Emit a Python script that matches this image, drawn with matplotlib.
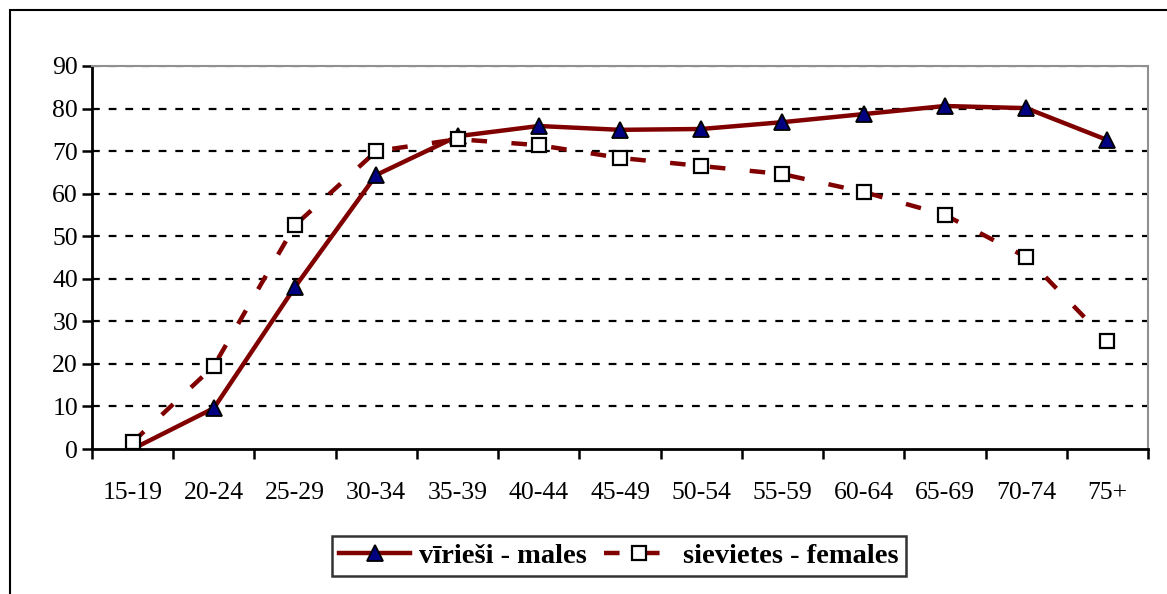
import matplotlib
matplotlib.use("Agg")
import matplotlib.pyplot as plt
from matplotlib.patches import Rectangle

# Données
age_groups = ["15-19", "20-24", "25-29", "30-34", "35-39", "40-44", "45-49",
              "50-54", "55-59", "60-64", "65-69", "70-74", "75+"]
males = [0.0, 9.6, 38.1, 64.4, 73.5, 75.9, 75.0, 75.2, 76.8, 78.7, 80.6, 80.1, 72.6]
females = [1.6, 19.5, 52.6, 70.0, 72.8, 71.4, 68.4, 66.5, 64.6, 60.4, 55.0, 45.1, 25.4]

plt.rcParams['font.family'] = ['Liberation Serif', 'DejaVu Serif']

fig = plt.figure(figsize=(11.67, 5.94), dpi=100)
ax = fig.add_axes([92 / 1167, 1 - 449 / 594, (1148 - 92) / 1167, (449 - 66) / 594])

# cadre extérieur
fig.patches.append(Rectangle((10 / 1167, -0.1), 1.2, 1 - 10 / 594 + 0.1,
                             transform=fig.transFigure, fill=False,
                             edgecolor="black", linewidth=1.5))

x = list(range(len(age_groups)))

# grille
for v in range(10, 90, 10):
    ax.axhline(v, color="black", linestyle=(0, (3.5, 4)), linewidth=1.6, zorder=1)
ax.axhline(90, color="#606060", linestyle=(0, (3.5, 4)), linewidth=1.6, zorder=1)

ax.plot(x, males, color="#800000", linewidth=3.2, marker="^", markersize=12,
        markerfacecolor="#000080", markeredgecolor="black", markeredgewidth=1.3,
        label="vīrieši - males", zorder=3)
ax.plot(x, females, color="#800000", linewidth=3.2, linestyle=(0, (3.5, 5.5)),
        marker="s", markersize=10, markerfacecolor="white", markeredgecolor="black",
        markeredgewidth=1.6, label="sievietes - females", zorder=4)

ax.set_xlim(-0.5, 12.5)
ax.set_ylim(0, 90)
ax.set_yticks(range(0, 100, 10))
ax.set_xticks(x)
ax.set_xticklabels(age_groups)
ax.set_xticks([i - 0.5 for i in range(len(age_groups) + 1)], minor=True)
ax.tick_params(axis="x", which="major", length=0, pad=24, labelsize=18.5)
ax.tick_params(axis="x", which="minor", length=7, width=1.8, direction="out")
ax.tick_params(axis="y", length=7, width=1.8, direction="out", labelsize=18.5, pad=3)

for s in ["left", "bottom"]:
    ax.spines[s].set_linewidth(2)
    ax.spines[s].set_color("black")
for s in ["top", "right"]:
    ax.spines[s].set_linewidth(1.5)
    ax.spines[s].set_color("#909090")

leg = fig.legend(loc="center", bbox_to_anchor=(619 / 1167, 1 - 556 / 594), ncol=2,
                 frameon=True, fancybox=False, edgecolor="black", handlelength=2.5,
                 columnspacing=0.6, handletextpad=0.3, borderpad=0.25,
                 prop={"weight": "bold", "size": 20.5})
leg.get_frame().set_linewidth(1.8)

fig.savefig("out.png", dpi=100)
